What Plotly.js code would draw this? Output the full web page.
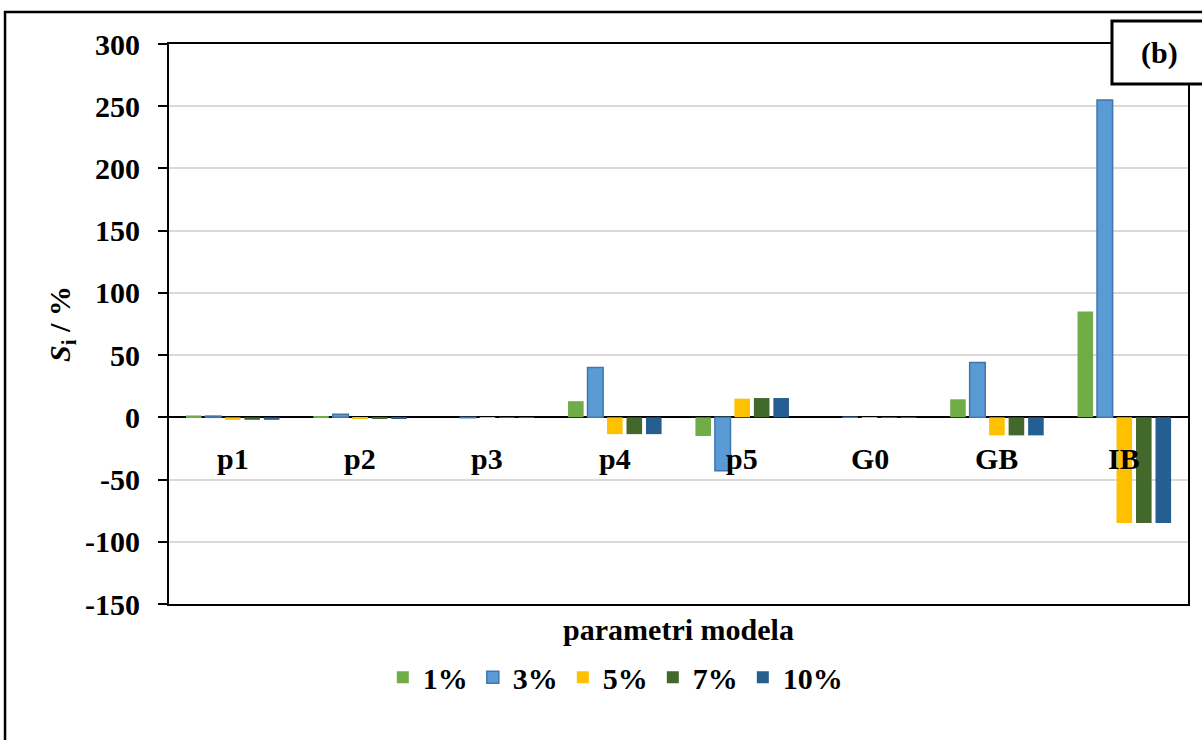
<!DOCTYPE html>
<html>
<head>
<meta charset="utf-8">
<script src="https://cdn.plot.ly/plotly-3.0.1.min.js"></script>
<style>
html,body{margin:0;padding:0;background:#fff;overflow:hidden;}
#chart{width:1202px;height:740px;}
</style>
</head>
<body>
<div id="chart"></div>
<script>
var categories = ['p1','p2','p3','p4','p5','G0','GB','IB'];
var seriesNames = ['1%','3%','5%','7%','10%'];
var s1  = [1.5, 0.3, 0, 13, -15, 0, 14.5, 85];
var s3  = [1, 2.5, -0.3, 40, -43, 0, 44, 255];
var s5  = [-2, -1, -0.3, -13.5, 15, -0.3, -14.5, -85];
var s7  = [-2, -1, -0.3, -13.5, 15.5, -0.3, -14.5, -85];
var s10 = [-2, -1, -0.5, -13.5, 15.5, -0.3, -14.5, -85];
var yTicks = [-150, -100, -50, 0, 50, 100, 150, 200, 250, 300];
var catLabelY = -33;

var colors = ['#70AD47', '#5B9BD5', '#FFC000', '#43682B', '#255E91'];
var lineColors = ['#70AD47', '#3F76AE', '#FFC000', '#43682B', '#255E91'];
var allSeries = [s1, s3, s5, s7, s10];

var FONT = 'Liberation Serif, Times New Roman, serif';

var traces = allSeries.map(function (vals, i) {
  return {
    type: 'bar',
    name: seriesNames[i],
    x: categories,
    y: vals,
    marker: {color: colors[i], line: {color: lineColors[i], width: i === 1 ? 1.5 : 0}},
    hoverinfo: 'x+y+name'
  };
});

var annotations = categories.map(function (c) {
  return {
    x: c, y: catLabelY, xref: 'x', yref: 'y',
    text: c, showarrow: false, yanchor: 'middle', xanchor: 'center',
    font: {family: FONT, size: 30, color: '#000', weight: 'bold'}
  };
});
annotations.push({
  x: 0.972, y: 0.984, xref: 'paper', yref: 'paper',
  text: '(b)', showarrow: false, xanchor: 'center', yanchor: 'middle',
  font: {family: FONT, size: 30, color: '#000', weight: 'bold'}
});

var layout = {
  width: 1202, height: 740,
  margin: {l: 169, r: 14, t: 44, b: 136},
  paper_bgcolor: '#fff', plot_bgcolor: '#fff',
  barmode: 'group', bargap: 0.235, bargroupgap: 0.2,
  font: {family: FONT, size: 30, color: '#000', weight: 'bold'},
  showlegend: true,
  legend: {
    orientation: 'h', x: 0.438, xanchor: 'center', y: -0.131, yanchor: 'middle',
    font: {family: FONT, size: 30, color: '#000', weight: 'bold'},
    itemclick: false, itemdoubleclick: false, traceorder: 'normal'
  },
  xaxis: {
    type: 'category', categoryorder: 'array', categoryarray: categories,
    showticklabels: false, ticks: '',
    showline: true, linecolor: '#000', linewidth: 2, mirror: true,
    showgrid: false, zeroline: false,
    title: {text: 'parametri modela', standoff: 14,
            font: {family: FONT, size: 30, color: '#000', weight: 'bold'}}
  },
  yaxis: {
    range: [-150, 300], tickvals: yTicks, ticktext: yTicks.map(String),
    ticks: 'outside', ticklen: 9, tickwidth: 2, tickcolor: '#000',
    ticklabelstandoff: 12,
    showline: true, linecolor: '#000', linewidth: 2, mirror: true,
    showgrid: true, gridcolor: '#D9D9D9', gridwidth: 2,
    zeroline: true, zerolinecolor: '#000', zerolinewidth: 2,
    tickfont: {family: FONT, size: 30, color: '#000', weight: 'bold'},
    title: {text: '<i>S</i><sub>i</sub> / %', standoff: 6,
            font: {family: FONT, size: 30, color: '#000', weight: 'bold'}}
  },
  shapes: [
    {type: 'rect', xref: 'paper', yref: 'paper',
     x0: -0.1609, x1: 1.05, y0: -0.27, y1: 1.0571,
     line: {color: '#000', width: 2.5}, fillcolor: 'rgba(0,0,0,0)', layer: 'above'},
    {type: 'rect', xref: 'paper', yref: 'paper',
     x0: 0.9254, x1: 1.03, y0: 0.9286, y1: 1.041,
     line: {color: '#000', width: 3}, fillcolor: '#fff', layer: 'above'}
  ],
  annotations: annotations
};

Plotly.newPlot('chart', traces, layout, {displayModeBar: false, staticPlot: false});
</script>
</body>
</html>
